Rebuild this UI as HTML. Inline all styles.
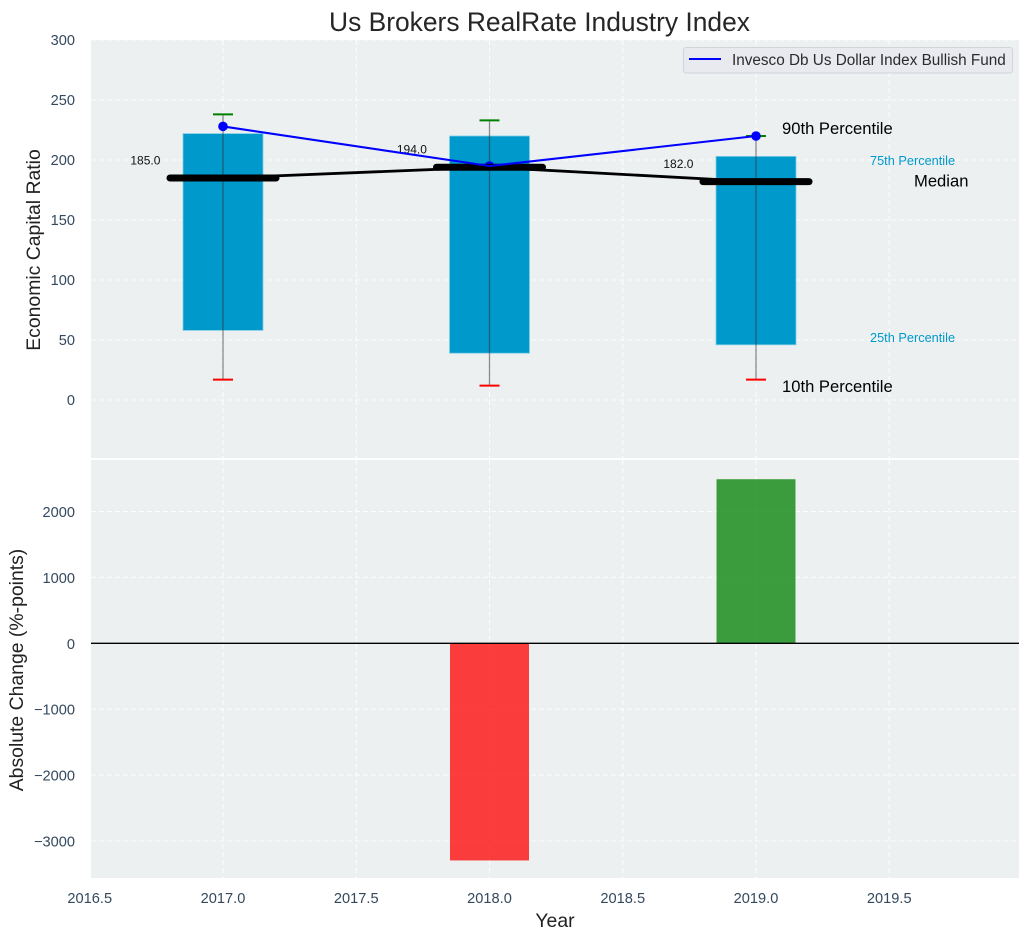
<!DOCTYPE html>
<html lang="en">
<head>
<meta charset="utf-8">
<title>Us Brokers RealRate Industry Index</title>
<style>
html,body{margin:0;padding:0;background:#fff;width:1029px;height:940px;overflow:hidden}
svg{display:block;font-family:"Liberation Sans",Arial,sans-serif}
.tick{font-size:14.6px;fill:#34495e}
.axis-title{font-size:19.4px;fill:#222}
.grid{stroke:#fff;stroke-width:1.1;stroke-dasharray:5 3;opacity:.85}
</style>
</head>
<body>
<svg id="chart" xmlns="http://www.w3.org/2000/svg" width="1029" height="940" viewBox="0 0 1029 940"></svg>
<script>
const years = [2017, 2018, 2019];
const p10 = [17, 12, 17];
const p25 = [58, 39, 46];
const medians = [185, 194, 182];
const p75 = [222, 220, 203];
const p90 = [238, 233, 220];
const fundValues = [228, 195, 220];
const absoluteChange = [null, -3295, 2490];
const xTicks = [2016.5, 2017, 2017.5, 2018, 2018.5, 2019, 2019.5];
const topTicks = [0, 50, 100, 150, 200, 250, 300];
const bottomTicks = [-3000, -2000, -1000, 0, 1000, 2000];

const NS = 'http://www.w3.org/2000/svg';
const svg = document.getElementById('chart');
const L = 91, R = 1019;
const xs = v => 223 + (v - 2017) * 266.5;
const yTop = v => 400 - v * 1.2;
const yBot = v => 643.3 - v * 0.0659;

function mk(tag, attrs, text, parent) {
  const e = document.createElementNS(NS, tag);
  for (const k in attrs) e.setAttribute(k, attrs[k]);
  if (text !== undefined && text !== null) e.textContent = text;
  (parent || svg).appendChild(e);
  return e;
}
function fmtX(v) { return v.toFixed(1); }
function fmtY(v) { return v < 0 ? '\u2212' + Math.abs(v) : String(v); }

/* panels */
let el = mk('rect', {x: L, y: 40, width: R - L, height: 418, fill: '#ecf0f1'});


el = mk('rect', {x: L, y: 460, width: R - L, height: 418, fill: '#ecf0f1'});



/* gridlines */
xTicks.forEach(t => {
  if (t < 2016.51) return;
  const a = mk('line', {class: 'grid', x1: xs(t), x2: xs(t), y1: 40, y2: 458});
  
  
  const b = mk('line', {class: 'grid', x1: xs(t), x2: xs(t), y1: 460, y2: 878});
  
  
});
topTicks.forEach(t => {
  const a = mk('line', {class: 'grid', x1: L, x2: R, y1: yTop(t), y2: yTop(t)});
  
  
  const lab = mk('text', {class: 'tick', x: 75, y: yTop(t) + 5, 'text-anchor': 'end'}, fmtY(t));
  
  
});
bottomTicks.forEach(t => {
  const a = mk('line', {class: 'grid', x1: L, x2: R, y1: yBot(t), y2: yBot(t)});
  
  
  const lab = mk('text', {class: 'tick', x: 75, y: yBot(t) + 5.5, 'text-anchor': 'end'}, fmtY(t));
  
  
});
xTicks.forEach(t => {
  const lab = mk('text', {class: 'tick', x: xs(t), y: 903, 'text-anchor': 'middle'}, fmtX(t));
  
  
});

/* boxes, whiskers, caps */
years.forEach((yr, i) => {
  const cx = xs(yr);
  const box = mk('rect', {x: cx - 40, y: yTop(p75[i]), width: 80, height: yTop(p25[i]) - yTop(p75[i]), fill: '#0099cc', stroke: '#7fcce5', 'stroke-width': 0.8});
  
  
  const wh = mk('line', {x1: cx, x2: cx, y1: yTop(p90[i]), y2: yTop(p10[i]), stroke: '#333', 'stroke-opacity': 0.55, 'stroke-width': 1.3});
  
  
  const capHi = mk('line', {x1: cx - 10, x2: cx + 10, y1: yTop(p90[i]), y2: yTop(p90[i]), stroke: 'green', 'stroke-width': 2});
  
  
  const capLo = mk('line', {x1: cx - 10, x2: cx + 10, y1: yTop(p10[i]), y2: yTop(p10[i]), stroke: 'red', 'stroke-width': 2});
  
  
});

/* median connector */
let medPts = years.map((y, i) => xs(y) + ',' + yTop(medians[i])).join(' ');
el = mk('polyline', {points: medPts, fill: 'none', stroke: '#000', 'stroke-width': 2.8});



/* fund markers sit beneath the median bars */
years.forEach((yr, i) => {
  const c = mk('circle', {cx: xs(yr), cy: yTop(fundValues[i]), r: 4.8, fill: '#0000ff'});
  
  
});

/* median thick bars */
years.forEach((yr, i) => {
  const cx = xs(yr);
  const m = mk('line', {x1: cx - 53, x2: cx + 53, y1: yTop(medians[i]), y2: yTop(medians[i]), stroke: '#000', 'stroke-width': 7, 'stroke-linecap': 'round'});
  
  
  const t = mk('text', {x: cx - 77.6, y: yTop(medians[i]) - 13.5, 'font-size': 12, fill: '#111', 'text-anchor': 'middle'}, medians[i].toFixed(1));
  
  
});

/* fund line drawn over the median bars */
let fundPts = years.map((y, i) => xs(y) + ',' + yTop(fundValues[i])).join(' ');
el = mk('polyline', {points: fundPts, fill: 'none', stroke: '#0000ff', 'stroke-width': 2.1});



/* annotations */
el = mk('text', {x: 782, y: 134, 'font-size': 16.6, fill: '#000'}, '90th Percentile');


el = mk('text', {x: 782, y: 392, 'font-size': 16.6, fill: '#000'}, '10th Percentile');


el = mk('text', {x: 914, y: 186.5, 'font-size': 16.6, fill: '#000'}, 'Median');


el = mk('text', {x: 870, y: 165, 'font-size': 12.75, fill: '#0099cc'}, '75th Percentile');


el = mk('text', {x: 870, y: 342, 'font-size': 12.75, fill: '#0099cc'}, '25th Percentile');



/* change bars */
years.forEach((yr, i) => {
  const v = absoluteChange[i];
  if (v === null) return;
  const y0 = yBot(0), y1 = yBot(v);
  const b = mk('rect', {x: xs(yr) - 39.5, y: Math.min(y0, y1), width: 79, height: Math.abs(y1 - y0), fill: v < 0 ? '#ff0000' : '#008000', 'fill-opacity': 0.75});
  
  
});
el = mk('line', {x1: L, x2: R, y1: yBot(0), y2: yBot(0), stroke: '#000', 'stroke-width': 1.3});



/* legend */
const lg = mk('g', {});


mk('rect', {x: 683.5, y: 47.5, width: 329, height: 25.5, rx: 2.5, fill: '#e8eaf0', stroke: '#d2d4da', 'stroke-width': 1}, null, lg);
el = mk('line', {x1: 689, x2: 721, y1: 59, y2: 59, stroke: '#0000ff', 'stroke-width': 2}, null, lg);


el = mk('text', {x: 732, y: 65, 'font-size': 15.3, fill: '#2b2b2b'}, 'Invesco Db Us Dollar Index Bullish Fund', lg);



/* titles */
el = mk('text', {x: 539.5, y: 31, 'font-size': 26.4, fill: '#262626', 'text-anchor': 'middle'}, 'Us Brokers RealRate Industry Index');


el = mk('text', {class: 'axis-title', x: 555, y: 927, 'text-anchor': 'middle'}, 'Year');


el = mk('text', {class: 'axis-title', transform: 'translate(40,250) rotate(-90)', 'text-anchor': 'middle'}, 'Economic Capital Ratio');


el = mk('text', {class: 'axis-title', transform: 'translate(23,670) rotate(-90)', 'text-anchor': 'middle'}, 'Absolute Change (%-points)');


</script>
</body>
</html>
